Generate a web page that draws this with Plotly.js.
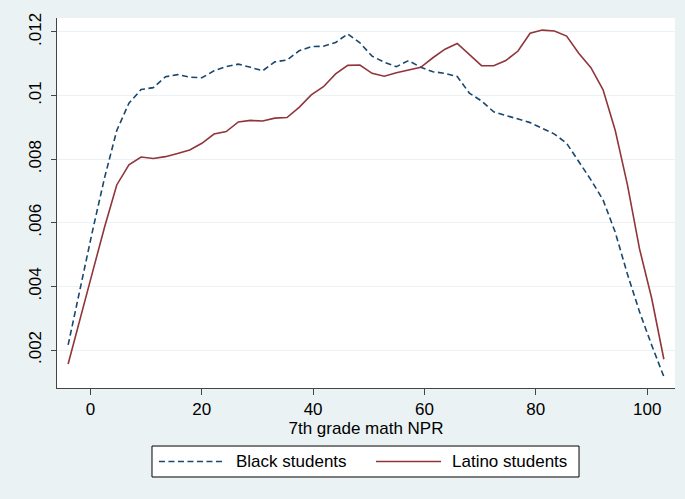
<!DOCTYPE html>
<html>
<head>
<meta charset="utf-8">
<script src="https://cdn.plot.ly/plotly-3.0.1.min.js"></script>
<style>
  html, body { margin: 0; padding: 0; background: #EAF2F3; }
  #chart { width: 685px; height: 499px; }
</style>
</head>
<body>
<div id="chart"></div>
<script>
// Evaluation points (7th grade math NPR)
const npr = [-4, -1.82, 0.37, 2.55, 4.73, 6.92, 9.10, 11.29, 13.47, 15.65,
  17.84, 20.02, 22.20, 24.39, 26.57, 28.76, 30.94, 33.12, 35.31, 37.49,
  39.67, 41.86, 44.04, 46.22, 48.41, 50.59, 52.78, 54.96, 57.14, 59.33,
  61.51, 63.69, 65.88, 68.06, 70.25, 72.43, 74.61, 76.80, 78.98, 81.16,
  83.35, 85.53, 87.71, 89.90, 92.08, 94.27, 96.45, 98.63, 100.82, 103];

// Kernel density, Black students
const blackDensity = [0.00216, 0.00397, 0.00574, 0.00742, 0.00890, 0.00976, 0.01019, 0.01025, 0.01059, 0.01066,
  0.01058, 0.01056, 0.01078, 0.01091, 0.01099, 0.01089, 0.01078, 0.01106, 0.01112, 0.01141,
  0.01154, 0.01155, 0.01167, 0.01194, 0.01166, 0.01124, 0.01105, 0.01091, 0.01110, 0.01089,
  0.01075, 0.01070, 0.01060, 0.01008, 0.00983, 0.00949, 0.00938, 0.00928, 0.00915, 0.00897,
  0.00879, 0.00850, 0.00792, 0.00735, 0.00672, 0.00570, 0.00439, 0.00320, 0.00215, 0.00116];

// Kernel density, Latino students
const latinoDensity = [0.00156, 0.00303, 0.00444, 0.00587, 0.00719, 0.00782, 0.00807, 0.00802, 0.00808, 0.00818,
  0.00829, 0.00850, 0.00879, 0.00887, 0.00917, 0.00922, 0.00920, 0.00929, 0.00931, 0.00963,
  0.01002, 0.01028, 0.01068, 0.01095, 0.01096, 0.01070, 0.01061, 0.01072, 0.01080, 0.01089,
  0.01119, 0.01146, 0.01164, 0.01130, 0.01094, 0.01094, 0.01110, 0.01140, 0.01196, 0.01206,
  0.01203, 0.01187, 0.01133, 0.01088, 0.01018, 0.00890, 0.00720, 0.00518, 0.00362, 0.00171];

const seriesNames = ["Black students", "Latino students"];
const seriesColors = ["#1A476F", "#90353B"];
const seriesDash = ["6px,3.5px", "solid"];
const xTickVals = [0, 20, 40, 60, 80, 100];
const yTickVals = [0.002, 0.004, 0.006, 0.008, 0.010, 0.012];
const yTickText = [".002", ".004", ".006", ".008", ".01", ".012"];
const xTitle = "7th grade math NPR";

const FONT = "Liberation Sans, Arial, Helvetica, sans-serif";

const traces = [
  {
    x: npr, y: blackDensity, type: "scatter", mode: "lines", name: seriesNames[0],
    line: { color: seriesColors[0], width: 1.6, dash: seriesDash[0] }
  },
  {
    x: npr, y: latinoDensity, type: "scatter", mode: "lines", name: seriesNames[1],
    line: { color: seriesColors[1], width: 1.6, dash: seriesDash[1] }
  }
];

// Stata-style legend box below the plot (paper coordinates)
const legY = -0.1986;
const legendShapes = [
  { type: "rect", xref: "paper", yref: "paper", x0: 0.1537, x1: 0.8447, y0: -0.2405, y1: -0.1568,
    fillcolor: "#FFFFFF", line: { color: "#000", width: 1 }, layer: "above" },
  { type: "line", xref: "paper", yref: "paper", x0: 0.1650, x1: 0.2702, y0: legY, y1: legY,
    line: { color: seriesColors[0], width: 1.6, dash: seriesDash[0] }, layer: "above" },
  { type: "line", xref: "paper", yref: "paper", x0: 0.5162, x1: 0.6214, y0: legY, y1: legY,
    line: { color: seriesColors[1], width: 1.6, dash: seriesDash[1] }, layer: "above" }
];
const legendTexts = [
  { xref: "paper", yref: "paper", x: 0.2865, y: legY, xanchor: "left", yanchor: "middle",
    text: seriesNames[0], showarrow: false, font: { size: 17, family: FONT, color: "#000" } },
  { xref: "paper", yref: "paper", x: 0.6360, y: legY, xanchor: "left", yanchor: "middle",
    text: seriesNames[1], showarrow: false, font: { size: 17, family: FONT, color: "#000" } }
];

const layout = {
  width: 685, height: 499,
  paper_bgcolor: "#EAF2F3",
  plot_bgcolor: "#FFFFFF",
  font: { family: FONT, size: 17, color: "#000" },
  margin: { l: 57, r: 10, t: 18, b: 111 },
  showlegend: false,
  xaxis: {
    range: [-6, 105],
    tickvals: xTickVals,
    ticks: "outside", ticklen: 6, tickwidth: 1, tickcolor: "#444",
    showline: true, linecolor: "#444", linewidth: 1,
    showgrid: false, zeroline: false,
    tickfont: { size: 17, family: FONT, color: "#000" },
    title: { text: xTitle, font: { size: 17, family: FONT, color: "#000" }, standoff: 0 },
    automargin: false
  },
  yaxis: {
    range: [0.000805, 0.01244],
    tickvals: yTickVals, ticktext: yTickText,
    tickangle: -90,
    ticks: "outside", ticklen: 5, tickwidth: 1, tickcolor: "#444",
    ticklabelstandoff: 3,
    showline: true, linecolor: "#444", linewidth: 1,
    showgrid: true, gridcolor: "#EAF2F3", gridwidth: 1,
    zeroline: false,
    tickfont: { size: 17, family: FONT, color: "#000" },
    automargin: false
  },
  shapes: legendShapes,
  annotations: legendTexts
};

Plotly.newPlot("chart", traces, layout, { displayModeBar: false, staticPlot: true });
</script>
</body>
</html>
